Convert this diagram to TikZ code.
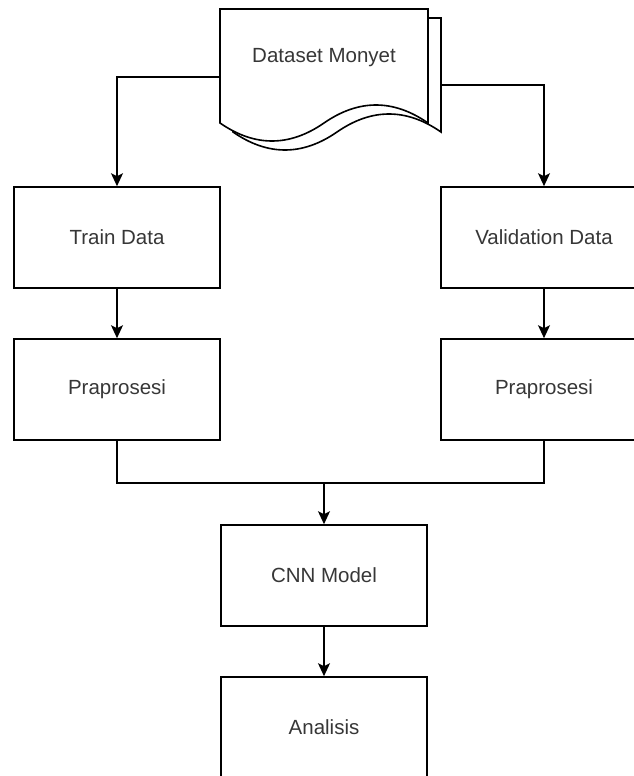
\documentclass[tikz,border=0pt]{standalone}
\usepackage{fontspec}
\setmainfont{Liberation Sans}
\usetikzlibrary{arrows.meta}
\definecolor{txt}{RGB}{55,55,55}
\tikzset{
  box/.style={draw=black, line width=1.6pt, fill=white, minimum width=206pt, minimum height=101pt, inner sep=0pt, text=txt, font=\fontsize{20.5}{24}\selectfont},
  conn/.style={draw=black, line width=1.6pt},
  arr/.style={conn, -{Stealth[length=13pt, width=12pt, inset=3pt]}},
  docpage/.style={draw=black, line width=1.6pt, fill=white, line join=miter}
}
\begin{document}
\begin{tikzpicture}[x=1pt, y=-1pt]
\useasboundingbox (0,0) rectangle (634,776);
\clip (0,0) rectangle (634,776);
\fill[white] (0,0) rectangle (634,776);
% multi-document shape
\draw[docpage] (233,18) -- (441,18) -- (441,132)
  .. controls (406.33,108) and (371.67,108) .. (337,132)
  .. controls (302.33,156) and (267.67,156) .. (233,132) -- cycle;
\draw[docpage] (220,9) -- (428,9) -- (428,123)
  .. controls (393.33,99) and (358.67,99) .. (324,123)
  .. controls (289.33,147) and (254.67,147) .. (220,123) -- cycle;
\node[text=txt, font=\fontsize{20.5}{24}\selectfont] (doc) at (324,58) {Dataset Monyet};
\coordinate (docL) at (220,77);
\coordinate (docR) at (441,85);
% boxes
\node[box] (train) at (117,237.5) {Train Data};
\node[box] (val) at (544,237.5) {Validation Data};
\node[box] (pre1) at (117,389.5) {Praprosesi};
\node[box] (pre2) at (544,389.5) {Praprosesi};
\node[box] (cnn) at (324,575.5) {CNN Model};
\node[box] (ana) at (324,727.5) {Analisis};
\coordinate (join) at (324,483);
% connectors
\draw[arr] (docL) -| (train.north);
\draw[arr] (docR) -| (val.north);
\draw[arr] (train) -- (pre1);
\draw[arr] (val) -- (pre2);
\draw[conn] (pre1.south) |- (join);
\draw[conn] (pre2.south) |- (join);
\draw[arr] (join) -- (cnn.north);
\draw[arr] (cnn) -- (ana);
\end{tikzpicture}
\end{document}
